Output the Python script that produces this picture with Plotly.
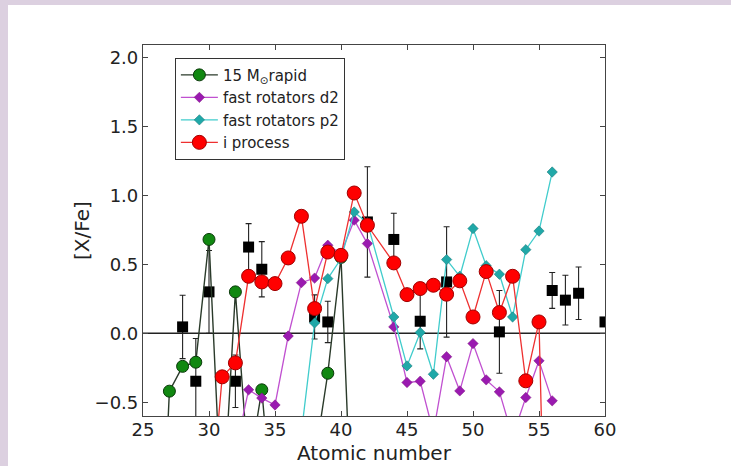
import plotly.graph_objects as go

# ---- data ----
green_z = [26, 27, 28, 29, 30, 31, 32, 33, 34, 35, 36, 37, 38, 39, 40, 41]
green_y = [-2.5, -0.42, -0.24, -0.21, 0.68, -1.37, 0.30, -1.0, -0.41, -1.5, -2.0, -1.8, -0.92, -0.29, 0.55, -1.85]

d2_z = [32, 33, 34, 35, 36, 37, 38, 39, 40, 41, 42, 44, 45, 46, 47, 48, 49, 50, 51, 52, 53, 54, 55, 56]
d2_y = [-0.86, -0.41, -0.47, -0.52, -0.02, 0.367, 0.40, 0.638, 0.58, 0.82, 0.65, 0.046, -0.357, -0.348,
        -0.72, -0.17, -0.418, -0.075, -0.338, -0.425, -0.75, -0.466, -0.20, -0.49]

p2_z = [37, 38, 39, 40, 41, 42, 44, 45, 46, 47, 48, 49, 50, 51, 52, 53, 54, 55, 56]
p2_y = [-0.72, 0.075, 0.396, 0.54, 0.879, 0.80, 0.118, -0.237, 0.005, -0.297, 0.534, 0.413, 0.759,
        0.49, 0.428, 0.118, 0.606, 0.741, 1.169]

ip_z = [30, 31, 32, 33, 34, 35, 36, 37, 38, 39, 40, 41, 42, 44, 45, 46, 47, 48, 49, 50, 51, 52, 53, 54, 55, 56]
ip_y = [-1.4, -0.316, -0.215, 0.413, 0.372, 0.36, 0.546, 0.848, 0.179, 0.589, 0.565, 1.017, 0.783, 0.51,
        0.28, 0.324, 0.348, 0.283, 0.38, 0.118, 0.447, 0.15, 0.413, -0.345, 0.082, -3.8]

obs_z = [28, 29, 30, 32, 33, 34, 38, 39, 42, 44, 46, 48, 52, 56, 57, 58, 60]
obs_y = [0.046, -0.348, 0.30, -0.348, 0.625, 0.464, 0.118, 0.082, 0.807, 0.68, 0.087, 0.372, 0.01,
         0.31, 0.24, 0.29, 0.082]
obs_err = [0.23, 0.31, 0.30, 0.19, 0.17, 0.20, 0.16, 0.15, 0.40, 0.19, 0.20, 0.40, 0.30, 0.13, 0.18, 0.19, 0.0]

x_ticks = [25, 30, 35, 40, 45, 50, 55, 60]
y_ticks = [-0.5, 0.0, 0.5, 1.0, 1.5, 2.0]
x_title = "Atomic number"
y_title = "[X/Fe]"

FONT = "DejaVu Sans"

fig = go.Figure()

fig.add_trace(go.Scatter(
    x=obs_z, y=obs_y, mode="markers", showlegend=False,
    marker=dict(symbol="square", size=11, color="black"),
    error_y=dict(type="data", array=obs_err, color="#222", thickness=1.1, width=3),
))

fig.add_trace(go.Scatter(
    x=green_z, y=green_y, mode="lines+markers", name="15 M<sub>⊙</sub>rapid",
    line=dict(color="#2a3a2a", width=1.4),
    marker=dict(symbol="circle", size=12, color="#118811", line=dict(color="#0a3a0a", width=1)),
))

fig.add_trace(go.Scatter(
    x=d2_z, y=d2_y, mode="lines+markers", name="fast rotators d2",
    line=dict(color="#c050d0", width=1.3),
    marker=dict(symbol="diamond", size=8, color="#9a1ab0", line=dict(color="#7a107a", width=0.5)),
))

fig.add_trace(go.Scatter(
    x=p2_z, y=p2_y, mode="lines+markers", name="fast rotators p2",
    line=dict(color="#40cccc", width=1.3),
    marker=dict(symbol="diamond", size=8, color="#20a8a8", line=dict(color="#107070", width=0.5)),
))

fig.add_trace(go.Scatter(
    x=ip_z, y=ip_y, mode="lines+markers", name="i process",
    line=dict(color="#ee3030", width=1.3),
    marker=dict(symbol="circle", size=14, color="#ff0000", line=dict(color="#a00000", width=1)),
))

# zero line
fig.add_shape(type="line", xref="paper", yref="y", x0=0, x1=1, y0=0, y1=0,
              line=dict(color="#222", width=1.5), layer="below")

# lavender page border strips
lav = "#dcd0e0"
fig.add_shape(type="rect", xref="paper", yref="paper", x0=-0.32, x1=-0.2922, y0=-0.15, y1=1.14,
              fillcolor=lav, line=dict(width=0), layer="above")
fig.add_shape(type="rect", xref="paper", yref="paper", x0=-0.32, x1=1.29, y0=1.1078, y1=1.14,
              fillcolor=lav, line=dict(width=0), layer="above")

axis_common = dict(showline=True, linecolor="#444", linewidth=1.2, mirror="ticks",
                   ticks="inside", ticklen=5, tickcolor="#444", showgrid=False, zeroline=False,
                   automargin=False,
                   tickfont=dict(family=FONT, size=18, color="#222"))

fig.update_xaxes(range=[25, 60], tickvals=x_ticks, ticktext=[str(v) for v in x_ticks],
                 ticklabelstandoff=-3, **axis_common)
fig.update_yaxes(range=[-0.6, 2.09], tickvals=y_ticks, tickformat=".1f", **axis_common)

fig.add_annotation(text=x_title, xref="paper", yref="paper", x=0.5, y=-0.1,
                   xanchor="center", yanchor="middle", showarrow=False,
                   font=dict(family=FONT, size=20, color="#222"))
fig.add_annotation(text=y_title, xref="paper", yref="paper", x=-0.132, y=0.4987,
                   xanchor="center", yanchor="middle", showarrow=False, textangle=-90,
                   font=dict(family=FONT, size=20, color="#222"))

fig.update_layout(
    width=731, height=466,
    margin=dict(l=143, r=126, t=45, b=50, autoexpand=False),
    paper_bgcolor="white", plot_bgcolor="white",
    font=dict(family=FONT, color="#222"),
    legend=dict(x=0.069, y=0.966, xanchor="left", yanchor="top", itemwidth=37,
                bgcolor="white", bordercolor="#333", borderwidth=1,
                font=dict(family=FONT, size=15, color="#222"), tracegroupgap=0),
)

fig.write_html("out.html", config={"displayModeBar": False},
               post_script="document.body.style.margin='0';document.body.style.padding='0';")
